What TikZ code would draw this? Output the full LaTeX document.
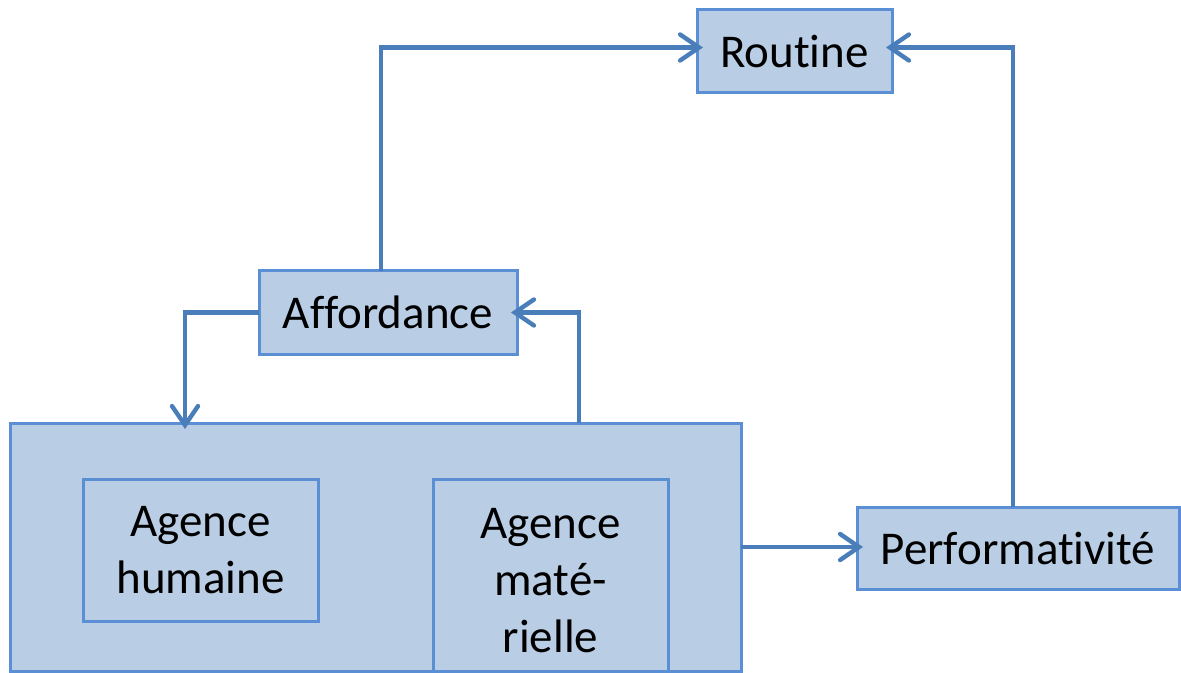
\documentclass[tikz,border=0pt]{standalone}
\usepackage{fontspec}
\setmainfont[Ligatures=NoCommon]{Carlito}
\usetikzlibrary{arrows.meta}
\definecolor{boxfill}{HTML}{B9CDE5}
\definecolor{boxline}{HTML}{5A8FD5}
\definecolor{arrcol}{HTML}{4A7EBB}
\begin{document}
\begin{tikzpicture}[x=0.5pt,y=-0.5pt,
  box/.style={draw=boxline,fill=boxfill,line width=1.5pt,inner sep=0pt,outer sep=0pt},
  lbl/.style={font=\fontsize{23.5}{28.5}\selectfont,align=center,inner sep=0pt},
  arr/.style={draw=arrcol,line width=2.2pt,-{Straight Barb[length=9.5pt,width=13pt,line cap=round]},shorten >=-3pt}]
\useasboundingbox (0,0) rectangle (1181,673);
\node[box,minimum width=97.5pt,minimum height=41.5pt] (routine) at (794.5,51.5) {};
\node[lbl] at (routine.center) {Routine};
\node[box,minimum width=129pt,minimum height=41.5pt] (aff) at (388,312.5) {};
\node[lbl] at (aff.center) {Affordance};
\node[box,minimum width=365.5pt,minimum height=124pt] (big) at (375.5,547) {};
\node[box,minimum width=117.5pt,minimum height=71pt] (hum) at (200.5,550) {};
\node[lbl] at (hum.center) {Agence\\humaine};
\node[box,minimum width=117.5pt,minimum height=96pt] (mat) at (550.5,575) {};
\node[lbl,anchor=base] (mattxt) at (550.5,652) {Agence\\maté-\\rielle};
\node[box,minimum width=161pt,minimum height=41pt] (perf) at (1018,548) {};
\node[lbl] at (perf.center) {Performativité};
\draw[arr] ([xshift=-3.5pt]aff.north) |- ([yshift=2pt]routine.west);
\draw[arr] ([xshift=-2.5pt]perf.north) |- ([yshift=2pt]routine.east);
\draw[arr] (aff.west) -| ([xshift=-95.25pt]big.north);
\draw[arr] ([xshift=101.75pt]big.north) |- (aff.east);
\draw[arr] (big.east) -- (big.east -| perf.west);
\end{tikzpicture}
\end{document}
